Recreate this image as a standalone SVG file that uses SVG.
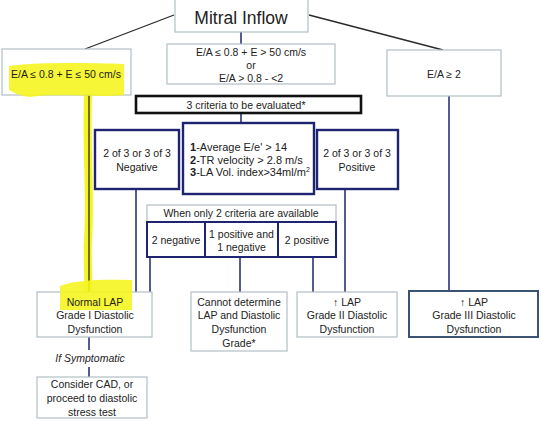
<svg xmlns="http://www.w3.org/2000/svg" width="541" height="421" viewBox="0 0 541 421">
<style>
text{font-family:"Liberation Sans",Arial,sans-serif;font-size:10.5px;fill:#222;text-anchor:middle}
.gray{fill:#fff;stroke:#b3bec3;stroke-width:1.2}
.navy{fill:#fff;stroke:#1e2470;stroke-width:2.4}
.nl{stroke:#1e2470;stroke-width:1.5;fill:none}
.dl{stroke:#2a2a2a;stroke-width:1.3;fill:none}
.hl{fill:#f5f520;opacity:0.9}
</style>
<rect width="541" height="421" fill="#fff"/>
<g id="connectors">
<line class="dl" x1="174" y1="15" x2="85" y2="49"/>
<line class="dl" x1="309" y1="15" x2="443" y2="50"/>
<line class="nl" x1="241" y1="32" x2="241" y2="44"/>
<path d="M88,95 C86,150 91,200 88,240 C87,260 89,280 88,292" stroke="#f5f520" stroke-width="8" fill="none"/>
<line class="dl" x1="89" y1="95" x2="89" y2="292"/>
<line class="nl" x1="241" y1="113" x2="241" y2="123"/>
<line class="nl" x1="136" y1="189" x2="136" y2="292"/>
<line class="nl" x1="150" y1="257" x2="150" y2="292"/>
<line class="nl" x1="240" y1="257" x2="240" y2="292"/>
<line class="nl" x1="313" y1="257" x2="313" y2="292"/>
<line class="nl" x1="345" y1="189" x2="345" y2="292"/>
<line class="nl" x1="449" y1="96" x2="449" y2="291"/>
<line class="nl" x1="89" y1="337" x2="89" y2="350"/>
<line class="nl" x1="89" y1="367" x2="89" y2="377"/>
</g>
<g id="mitral">
<rect class="gray" x="175" y="-2" width="133" height="34"/>
<text x="241" y="24" style="font-size:17.5px">Mitral Inflow</text>
</g>
<g id="left">
<rect class="gray" x="2" y="49" width="129" height="46"/>
<path class="hl" d="M9,66 C40,62 90,63 124,64 L124,95 C100,98 60,93 30,97 C20,96 12,92 9,90 Z"/>
<text x="66" y="78">E/A ≤ 0.8 + E ≤ 50 cm/s</text>
</g>
<g id="mid">
<rect class="gray" x="167" y="44" width="168" height="40"/>
<text x="251" y="56">E/A ≤ 0.8 + E &gt; 50 cm/s</text>
<text x="251" y="68.5">or</text>
<text x="251" y="81.5">E/A &gt; 0.8 - &lt;2</text>
</g>
<g id="right">
<rect class="gray" x="387" y="50" width="114" height="46"/>
<text x="444" y="78">E/A ≥ 2</text>
</g>
<g id="criteria3">
<rect x="136" y="96" width="225" height="17" fill="#fff" stroke="#111" stroke-width="2.6"/>
<text x="246" y="109">3 criteria to be evaluated*</text>
</g>
<g id="negative">
<rect class="navy" x="95" y="130" width="84" height="59"/>
<text x="137" y="156.5">2 of 3 or 3 of 3</text>
<text x="137" y="170.5">Negative</text>
</g>
<g id="criteria">
<rect class="navy" x="183" y="123" width="131" height="71"/>
<text x="190" y="150.5" style="text-anchor:start;font-size:11px"><tspan font-weight="bold">1</tspan>-Average E/e' &gt; 14</text>
<text x="190" y="163.5" style="text-anchor:start;font-size:11px"><tspan font-weight="bold">2</tspan>-TR velocity &gt; 2.8 m/s</text>
<text x="190" y="176" style="text-anchor:start;font-size:11px"><tspan font-weight="bold">3</tspan>-LA Vol. index&gt;34ml/m<tspan dy="-4" font-size="7">2</tspan></text>
</g>
<g id="positive">
<rect class="navy" x="317" y="130" width="81" height="59"/>
<text x="357" y="156.5">2 of 3 or 3 of 3</text>
<text x="357" y="170.5">Positive</text>
</g>
<g id="only2">
<rect class="gray" x="147" y="205" width="189" height="17"/>
<text x="241" y="217">When only 2 criteria are available</text>
</g>
<g id="neg2">
<rect x="147" y="222" width="58" height="35" fill="#fff" stroke="#1e2470" stroke-width="2"/>
<text x="176" y="243.5">2 negative</text>
</g>
<g id="posneg">
<rect x="205" y="222" width="73" height="35" fill="#fff" stroke="#1e2470" stroke-width="2"/>
<text x="241.5" y="237.5">1 positive and</text>
<text x="241.5" y="250.5">1 negative</text>
</g>
<g id="pos2">
<rect x="278" y="222" width="58" height="35" fill="#fff" stroke="#1e2470" stroke-width="2"/>
<text x="307" y="243.5">2 positive</text>
</g>
<g id="normal">
<rect class="gray" x="37" y="292" width="115" height="45"/>
<path class="hl" d="M60,286 C75,280 100,279 132,280 L132,310 L60,310 Z"/>
<text x="95" y="305.5">Normal  LAP</text>
<text x="95" y="318.5">Grade I Diastolic</text>
<text x="95" y="332.5">Dysfunction</text>
</g>
<g id="symptomatic">
<text x="90" y="361.5" font-style="italic">If Symptomatic</text>
</g>
<g id="consider">
<rect class="gray" x="37" y="377" width="110" height="41"/>
<text x="92" y="387.5">Consider CAD, or</text>
<text x="92" y="402">proceed to diastolic</text>
<text x="92" y="416">stress  test</text>
</g>
<g id="cannot">
<rect class="gray" x="191" y="292" width="96" height="59"/>
<text x="239" y="305.5">Cannot determine</text>
<text x="239" y="318.5">LAP and Diastolic</text>
<text x="239" y="332.5">Dysfunction</text>
<text x="239" y="346.5">Grade*</text>
</g>
<g id="grade2">
<rect class="gray" x="297" y="292" width="100" height="45"/>
<text x="347" y="305.5">↑ LAP</text>
<text x="347" y="318.5">Grade II Diastolic</text>
<text x="347" y="332.5">Dysfunction</text>
</g>
<g id="grade3">
<rect x="409" y="291" width="129" height="46" fill="#fff" stroke="#3b5272" stroke-width="2"/>
<text x="474" y="305.5">↑ LAP</text>
<text x="474" y="318.5">Grade III Diastolic</text>
<text x="474" y="332.5">Dysfunction</text>
</g>
</svg>
